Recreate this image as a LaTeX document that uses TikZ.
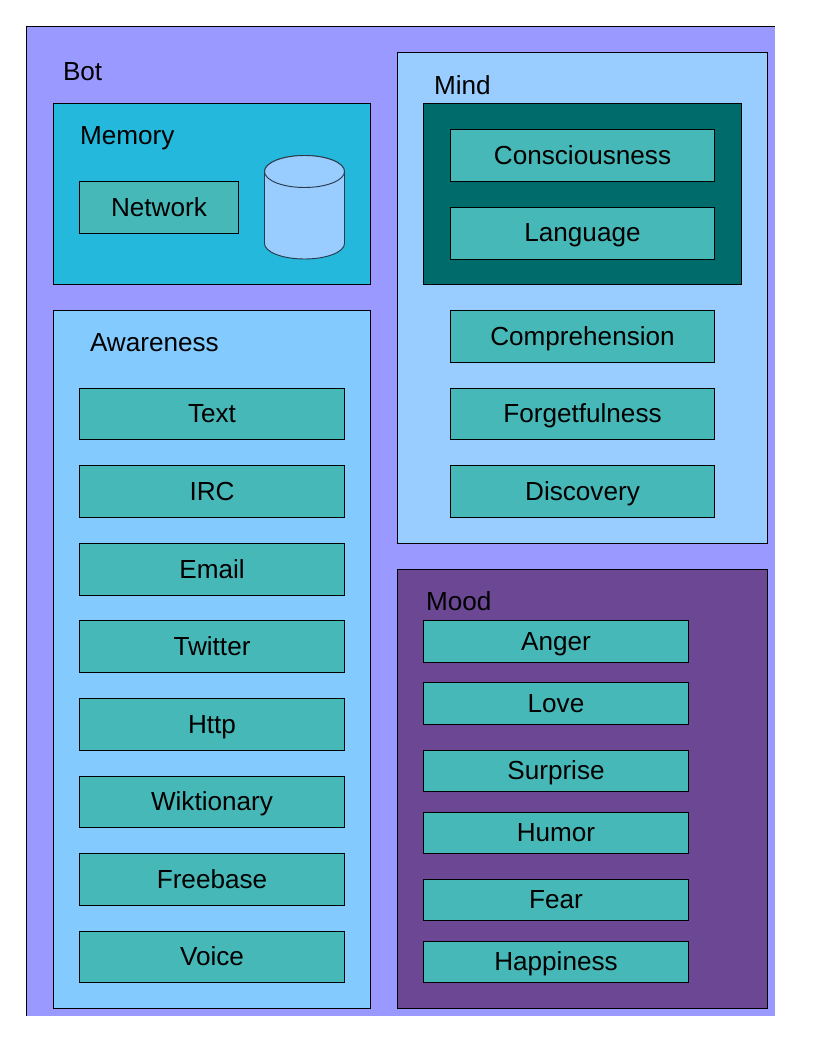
\documentclass[tikz,border=0pt]{standalone}
\usepackage{fontspec}
\setmainfont{Liberation Sans}
\definecolor{botc}{HTML}{9999FF}
\definecolor{memc}{HTML}{23B8DC}
\definecolor{tealc}{HTML}{47B8B8}
\definecolor{mindc}{HTML}{99CCFF}
\definecolor{awac}{HTML}{83CAFF}
\definecolor{darkc}{HTML}{006B6B}
\definecolor{moodc}{HTML}{6B4794}
\definecolor{cylline}{HTML}{2A3A4A}
\tikzset{
  panel/.style={draw=black,line width=0.75pt,outer sep=0pt,inner sep=0pt},
  itembox/.style={panel,fill=tealc,font=\fontsize{19.6pt}{24pt}\selectfont,text height=13pt,text depth=0pt,align=center},
  caption/.style={anchor=base west,inner sep=0pt,outer sep=0pt,font=\fontsize{19.6pt}{24pt}\selectfont},
  cyl/.style={draw=cylline,line width=0.7pt,fill=mindc}
}
% name, x1, y1, x2, y2, extra style, text  (pixel coordinates)
\newcommand{\pxnode}[7]{%
  \node[#6,minimum width={0.75pt*(#4-#2)},minimum height={0.75pt*(#5-#3)}]
    (#1) at ({(#2+#4)/2},{-(#3+#5)/2}) {#7};}
\begin{document}
\begin{tikzpicture}[x=0.75pt,y=0.75pt]
\useasboundingbox (0,0) rectangle (816,-1056);
% outer Bot panel: black only along top and left
\fill[botc] (26.5,-26.5) rectangle (775,-1016);
\coordinate (botbl) at (26.5,-1016);
\coordinate (bottl) at (26.5,-26.5);
\coordinate (bottr) at (775,-26.5);
\draw[black,line width=0.75pt] (botbl) -- (bottl) -- (bottr);
\node[caption] (bot) at (63,-80) {Bot};
% Memory
\pxnode{memory}{53.5}{103.5}{370.5}{284.5}{panel,fill=memc}{}
\node[caption] (memlabel) at (80,-144) {Memory};
\pxnode{network}{79.5}{181.5}{238.5}{233.5}{itembox}{Network}
\draw[cyl] (264.5,-171.5) -- (264.5,-243.5) arc[start angle=180,end angle=360,x radius=40,y radius=15.5]
  -- (344.5,-171.5) arc[start angle=0,end angle=180,x radius=40,y radius=16];
\draw[cyl] (304.5,-171.5) ellipse[x radius=40,y radius=16];
% Awareness
\pxnode{awareness}{53.5}{310.5}{370.5}{1008.5}{panel,fill=awac}{}
\node[caption] (awalabel) at (90,-351) {Awareness};
\pxnode{text}{79.5}{388.5}{344.5}{439.5}{itembox}{Text}
\pxnode{irc}{79.5}{465.5}{344.5}{517.5}{itembox}{IRC}
\pxnode{email}{79.5}{543.5}{344.5}{595.5}{itembox}{Email}
\pxnode{twitter}{79.5}{620.5}{344.5}{672.5}{itembox}{Twitter}
\pxnode{http}{79.5}{698.5}{344.5}{750.5}{itembox}{Http}
\pxnode{wiktionary}{79.5}{776.5}{344.5}{827.5}{itembox}{Wiktionary}
\pxnode{freebase}{79.5}{853.5}{344.5}{905.5}{itembox}{Freebase}
\pxnode{voice}{79.5}{931.5}{344.5}{982.5}{itembox}{Voice}
% Mind
\pxnode{mind}{397.5}{52.5}{767.5}{543.5}{panel,fill=mindc}{}
\node[caption] (mindlabel) at (434,-94) {Mind};
\pxnode{core}{423.5}{103.5}{741.5}{284.5}{panel,fill=darkc}{}
\pxnode{consciousness}{450.5}{129.5}{714.5}{181.5}{itembox}{Consciousness}
\pxnode{language}{450.5}{207.5}{714.5}{259.5}{itembox,text height=11.5pt}{Language}
\pxnode{comprehension}{450.5}{310.5}{714.5}{362.5}{itembox}{Comprehension}
\pxnode{forgetfulness}{450.5}{388.5}{714.5}{439.5}{itembox}{Forgetfulness}
\pxnode{discovery}{450.5}{465.5}{714.5}{517.5}{itembox}{Discovery}
% Mood
\pxnode{mood}{397.5}{569.5}{767.5}{1008.5}{panel,fill=moodc}{}
\node[caption] (moodlabel) at (426,-610) {Mood};
\pxnode{anger}{423.5}{620.5}{688.5}{662.5}{itembox}{Anger}
\pxnode{love}{423.5}{682.5}{688.5}{724.5}{itembox}{Love}
\pxnode{surprise}{423.5}{750.5}{688.5}{791.5}{itembox}{Surprise}
\pxnode{humor}{423.5}{812.5}{688.5}{853.5}{itembox}{Humor}
\pxnode{fear}{423.5}{879.5}{688.5}{920.5}{itembox}{Fear}
\pxnode{happiness}{423.5}{941.5}{688.5}{982.5}{itembox}{Happiness}
\end{tikzpicture}
\end{document}
